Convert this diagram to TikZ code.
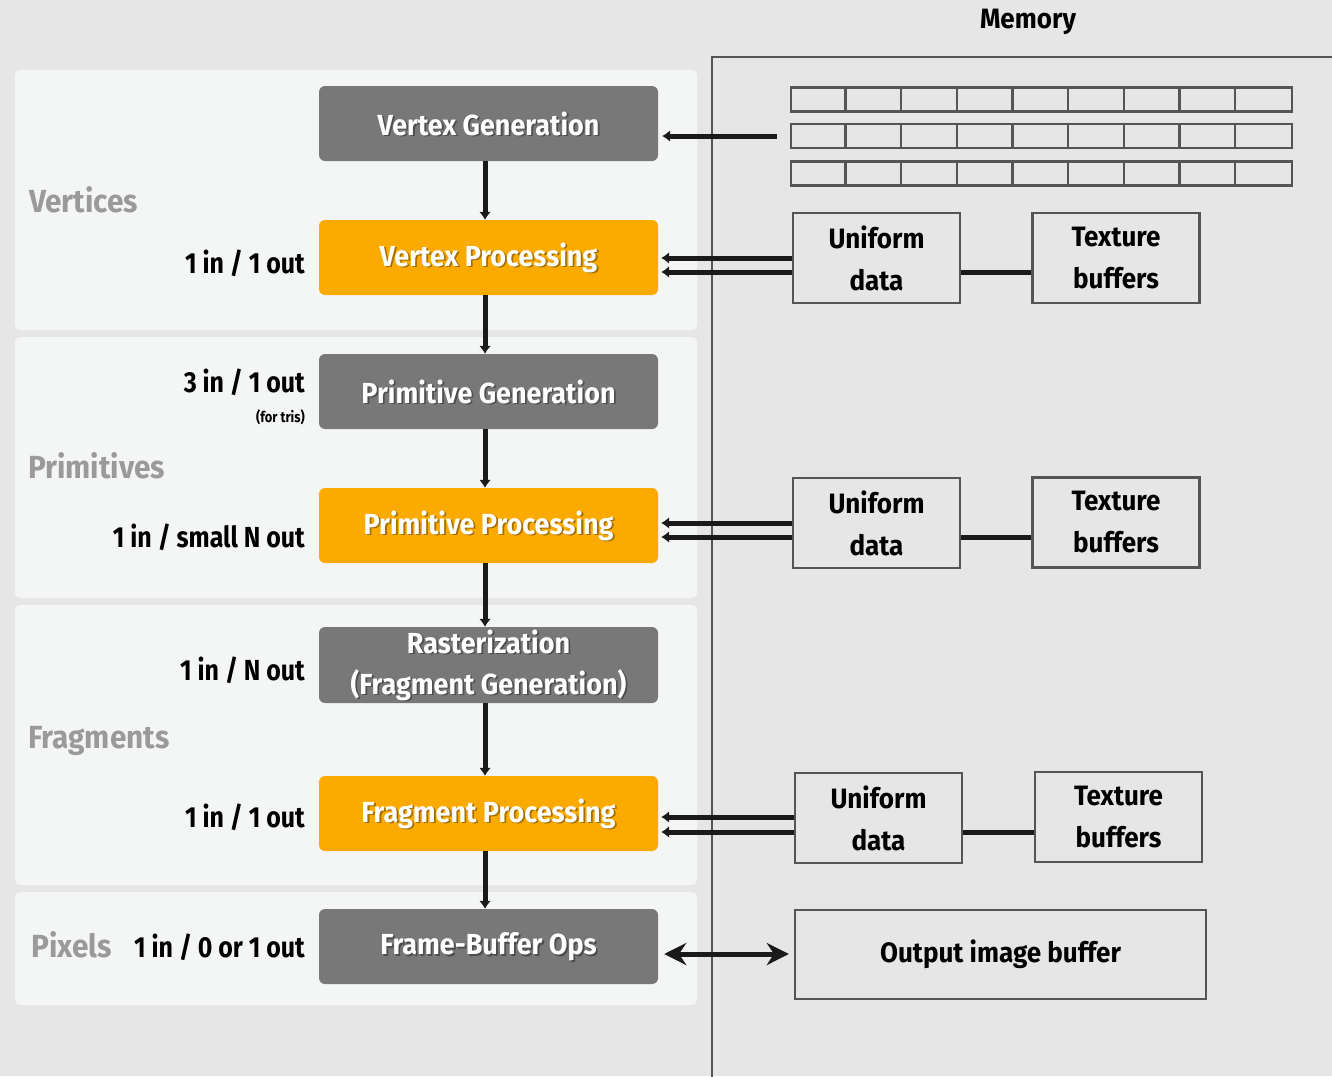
\documentclass[tikz,border=0pt]{standalone}
\usepackage{fontspec}
\setmainfont{Fira Sans}[FakeStretch=0.93]
\newfontfamily\ratefam{Fira Sans}[FakeStretch=0.86]
\usetikzlibrary{arrows.meta}
\definecolor{bgcol}{HTML}{E6E6E6}
\definecolor{panelcol}{HTML}{F4F5F5}
\definecolor{stagegray}{HTML}{787878}
\definecolor{stageorange}{HTML}{FBAB00}
\definecolor{seclabel}{HTML}{9A9A9A}
\definecolor{linecol}{HTML}{1A1A1A}
\definecolor{boxline}{HTML}{555555}
\newcommand\stagefont{\fontsize{29}{41}\selectfont\bfseries}
\newcommand\ratefont{\ratefam\fontsize{29}{33}\selectfont\bfseries}
\newcommand\secfont{\fontsize{32}{36}\selectfont\bfseries}
\newcommand\memfont{\fontsize{28}{42}\selectfont\bfseries}
\begin{document}
\begin{tikzpicture}[x=1pt,y=-1pt,
  panel/.style={fill=panelcol, draw=none, rounded corners=5pt},
  stage/.style={rounded corners=6pt, minimum width=339pt, minimum height=75pt,
    text=white, font=\stagefont, align=center, inner sep=0pt},
  gstage/.style={stage, fill=stagegray},
  ostage/.style={stage, fill=stageorange},
  shadowed/.style={path picture={\node[text=black, opacity=0.35, font=\stagefont, align=center]
    at ([xshift=1.8pt,yshift=-1.8pt]path picture bounding box.center) {#1};}},
  rate/.style={anchor=east, font=\ratefont, text=black, inner sep=0pt},
  section/.style={anchor=west, font=\secfont, text=seclabel, inner sep=0pt},
  membox/.style={draw=boxline, line width=2.4pt, fill=bgcol, minimum width=167pt,
    minimum height=90pt, font=\memfont, align=center, inner sep=0pt},
  gridrow/.style={draw=boxline, line width=2.4pt, minimum width=501pt, minimum height=24pt, inner sep=0pt},
  flow/.style={draw=linecol, line width=5pt, -{Latex[length=8pt,width=12pt]}},
  link/.style={draw=linecol, line width=5pt},
  both/.style={draw=linecol, line width=5pt, {Stealth[length=22pt,width=22pt]}-{Stealth[length=22pt,width=22pt]}}
]
\useasboundingbox (0,0) rectangle (1332,1076);
\clip (0,0) rectangle (1332,1076);
\fill[bgcol] (0,0) rectangle (1332,1076);

% Left-hand stage panels
\fill[panel] (15,70) rectangle (697,330);
\fill[panel] (15,337) rectangle (697,598);
\fill[panel] (15,605) rectangle (697,885);
\fill[panel] (15,892) rectangle (697,1005);

% Memory area
\draw[draw=boxline, line width=1.6pt] (712,1090) -- (712,57) -- (1340,57);
\node[font=\memfont, inner sep=0pt] (memlabel) at (1028,22) {Memory};

% Pipeline stages
\node[gstage, shadowed={Vertex Generation}] (vgen) at (488.5,123.5) {Vertex Generation};
\node[ostage, shadowed={Vertex Processing}] (vproc) at (488.5,257.5) {Vertex Processing};
\node[gstage, shadowed={Primitive Generation}] (pgen) at (488.5,391.5) {Primitive Generation};
\node[ostage, shadowed={Primitive Processing}] (pproc) at (488.5,525.5) {Primitive Processing};
\node[gstage, shadowed={Rasterization\\(Fragment Generation)}, minimum height=76pt] (rast) at (488.5,665) {Rasterization\\(Fragment Generation)};
\node[ostage, shadowed={Fragment Processing}] (fproc) at (488.5,813.5) {Fragment Processing};
\node[gstage, shadowed={Frame-Buffer Ops}] (fbops) at (488.5,946.5) {Frame-Buffer Ops};

\draw[flow] (vgen.south -| 485,0) -- (vproc.north -| 485,0);
\draw[flow] (vproc.south -| 485,0) -- (pgen.north -| 485,0);
\draw[flow] (pgen.south -| 485,0) -- (pproc.north -| 485,0);
\draw[flow] (pproc.south -| 485,0) -- (rast.north -| 485,0);
\draw[flow] (rast.south -| 485,0) -- (fproc.north -| 485,0);
\draw[flow] (fproc.south -| 485,0) -- (fbops.north -| 485,0);

% Section names
\node[section] (secv) at (29,200) {Vertices};
\node[section] (secp) at (28,466) {Primitives};
\node[section] (secf) at (28,741) {Fragments};
\node[section] (secx) at (31,945) {Pixels};

% Rates
\node[rate] (r1) at (305,263) {1 in / 1 out};
\node[rate] (r2) at (305,382) {3 in / 1 out};
\node[rate, font=\ratefam\fontsize{15}{17}\selectfont\bfseries] (r2b) at (305,417) {(for tris)};
\node[rate] (r3) at (305,537) {1 in / small N out};
\node[rate] (r4) at (305,670) {1 in / N out};
\node[rate] (r5) at (305,817) {1 in / 1 out};
\node[rate] (r6) at (305,947) {1 in / 0 or 1 out};

% Vertex buffers in memory
\foreach \i/\y in {1/99.5, 2/136, 3/173.5} {
  \node[gridrow] (row\i) at (1041.5,\y) {};
  \foreach \k in {1,...,8}
    \draw[draw=boxline, line width=2.4pt] ([xshift=\k*55.67pt]row\i.north west) -- ([xshift=\k*55.67pt]row\i.south west);
}
\coordinate (rowtail) at ([xshift=-13pt]row2.west);
\draw[flow] (rowtail) -- ([xshift=4pt]vgen.east |- rowtail);

% Uniform data and texture buffers
\node[membox] (ud1) at (876.5,258) {Uniform\\data};
\node[membox] (tb1) at (1116,258) {Texture\\buffers};
\node[membox] (ud2) at (876.5,523) {Uniform\\data};
\node[membox] (tb2) at (1116,522.5) {Texture\\buffers};
\node[membox] (ud3) at (878.5,818) {Uniform\\data};
\node[membox] (tb3) at (1118.5,817) {Texture\\buffers};

\foreach \u/\t/\s/\a/\b in {ud1/tb1/vproc/258/272, ud2/tb2/pproc/523/537, ud3/tb3/fproc/817/832} {
  \draw[flow] (\u.west |- 0,\a) -- ([xshift=3pt]\s.east |- 0,\a);
  \draw[flow] (\u.west |- 0,\b) -- ([xshift=3pt]\s.east |- 0,\b);
  \draw[link] (\u.east |- 0,\b) -- (\t.west |- 0,\b);
}

% Output image buffer
\node[membox, minimum width=411pt, minimum height=89pt] (outbuf) at (1000.5,954.5) {Output image buffer};
\draw[both] ([xshift=6pt]fbops.east |- 0,954) -- ([xshift=-5pt]outbuf.west |- 0,954);
\end{tikzpicture}
\end{document}
